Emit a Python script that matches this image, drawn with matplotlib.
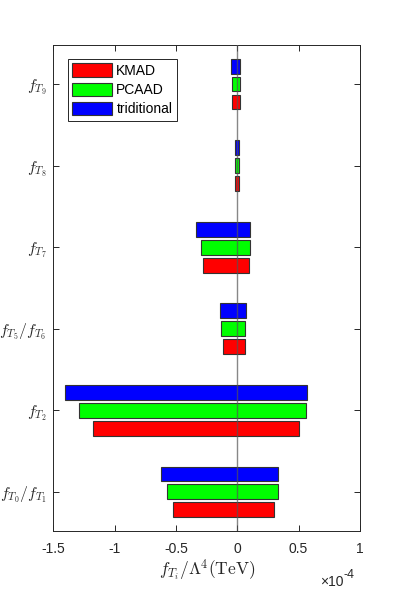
import matplotlib
matplotlib.use("Agg")
import matplotlib.pyplot as plt
import numpy as np
from matplotlib.ticker import FuncFormatter

plt.rcParams['font.family'] = ['Liberation Sans', 'DejaVu Sans']
plt.rcParams['mathtext.fontset'] = 'cm'
plt.rcParams['axes.unicode_minus'] = False

# Data (units of 1e-4)
categories = [r'$f_{T_0}/f_{T_1}$', r'$f_{T_2}$', r'$f_{T_5}/f_{T_6}$',
              r'$f_{T_7}$', r'$f_{T_8}$', r'$f_{T_9}$']
methods = ['KMAD', 'PCAAD', 'triditional']
colors = ['#ff0000', '#00ff00', '#0000ff']

kmad_low = [-0.522, -1.177, -0.120, -0.277, -0.016, -0.041]
kmad_high = [0.297, 0.500, 0.060, 0.095, 0.014, 0.019]
pcaad_low = [-0.571, -1.289, -0.131, -0.300, -0.016, -0.046]
pcaad_high = [0.329, 0.563, 0.065, 0.105, 0.016, 0.022]
trad_low = [-0.620, -1.406, -0.141, -0.337, -0.021, -0.051]
trad_high = [0.334, 0.568, 0.068, 0.106, 0.016, 0.022]

x_ticks = [-1.5, -1, -0.5, 0, 0.5, 1]

lows = [kmad_low, pcaad_low, trad_low]
highs = [kmad_high, pcaad_high, trad_high]

fig = plt.figure(figsize=(3.99, 5.97), dpi=100)
ax = fig.add_axes([0.134, 0.1106, 0.768, 0.814])

y = np.arange(1, len(categories) + 1)
offsets = [-0.22, 0.0, 0.22]
for lo, hi, c, m, off in zip(lows, highs, colors, methods, offsets):
    lo = np.array(lo); hi = np.array(hi)
    ax.barh(y + off, hi - lo, left=lo, height=0.18, color=c,
            edgecolor='#333333', linewidth=0.8, label=m, zorder=2)

ax.axvline(0, color='#555555', linewidth=1.0, alpha=0.7, zorder=3)

ax.set_xlim(-1.5, 1)
ax.set_ylim(0.52, 6.48)
ax.set_xticks(x_ticks)
ax.xaxis.set_major_formatter(FuncFormatter(lambda v, p: '%g' % v))
ax.set_yticks(y)
ax.set_yticklabels(categories, fontsize=11.3)
ax.tick_params(axis='x', labelsize=10, colors='#262626', pad=8)
ax.tick_params(axis='y', pad=5)
ax.tick_params(axis='both', direction='in', length=4, width=0.7,
               top=True, right=True, color='#262626')
for lab in ax.get_yticklabels():
    lab.set_color('#262626')
for s in ax.spines.values():
    s.set_color('#262626')
    s.set_linewidth(0.7)

ax.set_xlabel(r'$f_{T_i}/\Lambda^4(\mathrm{TeV})$', fontsize=12.5, labelpad=1, color='#262626')
ax.annotate('\u00d710', xy=(1.0, -0.105), xycoords='axes fraction',
            xytext=(-12, 0), textcoords='offset points',
            fontsize=10, ha='right', va='center', color='#262626')
ax.annotate('-4', xy=(1.0, -0.105), xycoords='axes fraction',
            xytext=(-12, 5), textcoords='offset points',
            fontsize=9, ha='left', va='center', color='#262626')

leg = ax.legend(loc='upper left', bbox_to_anchor=(0.048, 0.9706), fontsize=10,
                handlelength=2.88, handleheight=1.08, handletextpad=0.29,
                labelspacing=0.36, borderpad=0.3, borderaxespad=0,
                fancybox=False, framealpha=1, edgecolor='#262626')
leg.get_frame().set_linewidth(0.7)
handles = leg.legend_handles if hasattr(leg, 'legend_handles') else leg.legendHandles
for h in handles:
    h.set_edgecolor('#333333')
    h.set_linewidth(0.8)

fig.savefig('out.png', dpi=100)
